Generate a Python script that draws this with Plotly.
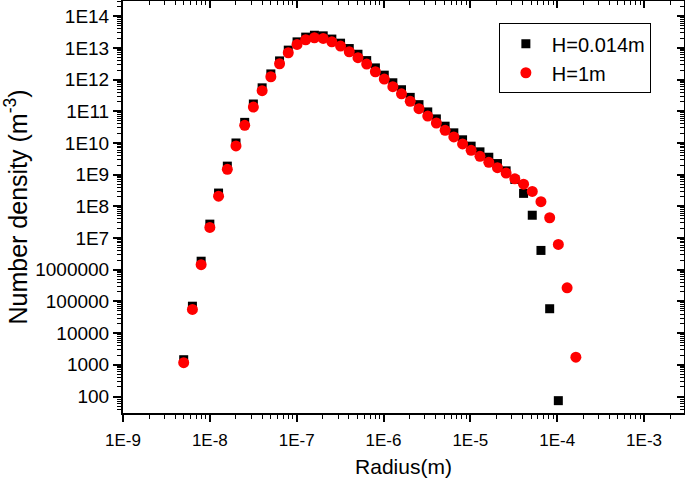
import plotly.graph_objects as go

# Radius bins (m)
radius = [5.00e-9, 6.30e-9, 7.94e-9, 1.00e-8, 1.26e-8, 1.59e-8, 2.00e-8, 2.52e-8,
          3.17e-8, 4.00e-8, 5.04e-8, 6.35e-8, 8.00e-8, 1.01e-7, 1.27e-7, 1.60e-7,
          2.02e-7, 2.54e-7, 3.20e-7, 4.03e-7, 5.08e-7, 6.40e-7, 8.06e-7, 1.02e-6,
          1.28e-6, 1.61e-6, 2.03e-6, 2.56e-6, 3.23e-6, 4.06e-6, 5.12e-6, 6.45e-6,
          8.13e-6, 1.02e-5, 1.29e-5, 1.63e-5, 2.05e-5, 2.58e-5, 3.25e-5, 4.10e-5,
          5.16e-5, 6.50e-5, 8.19e-5, 1.03e-4, 1.30e-4, 1.64e-4]

# H = 0.014 m (black squares), 44 points
density_h0014 = [1.45e3, 7.08e4, 1.86e6, 2.75e7, 2.63e8, 1.86e9, 1.00e10, 4.47e10,
                 1.70e11, 5.50e11, 1.51e12, 3.89e12, 8.51e12, 1.55e13, 2.19e13, 2.51e13,
                 2.40e13, 1.90e13, 1.41e13, 9.55e12, 6.31e12, 3.98e12, 2.34e12, 1.38e12,
                 7.94e11, 4.79e11, 2.75e11, 1.62e11, 9.55e10, 5.75e10, 3.39e10, 2.09e10,
                 1.26e10, 7.94e9, 5.25e9, 3.55e9, 2.24e9, 1.32e9, 7.08e8, 2.57e8,
                 5.25e7, 4.07e6, 5.89e4, 74]

# H = 1 m (red circles), 46 points
density_h1 = [1.17e3, 5.60e4, 1.45e6, 2.16e7, 2.09e8, 1.48e9, 8.05e9, 3.60e10,
              1.36e11, 4.47e11, 1.23e12, 3.16e12, 7.03e12, 1.29e13, 1.81e13, 2.09e13,
              1.99e13, 1.56e13, 1.14e13, 7.57e12, 4.90e12, 3.08e12, 1.77e12, 1.04e12,
              5.97e11, 3.55e11, 2.06e11, 1.21e11, 7.08e10, 4.27e10, 2.51e10, 1.55e10,
              9.31e9, 5.89e9, 3.80e9, 2.45e9, 1.66e9, 1.12e9, 7.41e8, 5.01e8,
              2.95e8, 1.41e8, 4.37e7, 6.31e6, 2.69e5, 1.74e3]

x_tickvals = [1e-9, 1e-8, 1e-7, 1e-6, 1e-5, 1e-4, 1e-3]
x_ticktext = ["1E-9", "1E-8", "1E-7", "1E-6", "1E-5", "1E-4", "1E-3"]
y_tickvals = [1e2, 1e3, 1e4, 1e5, 1e6, 1e7, 1e8, 1e9, 1e10, 1e11, 1e12, 1e13, 1e14]
y_ticktext = ["100", "1000", "10000", "100000", "1000000", "1E7", "1E8", "1E9",
              "1E10", "1E11", "1E12", "1E13", "1E14"]

FONT = "Liberation Sans, Arial, sans-serif"
xrange = [-9, -2.54]
yrange = [1.48, 14.48]

fig = go.Figure()
fig.add_trace(go.Scatter(x=radius[:len(density_h0014)], y=density_h0014, mode="markers",
                         name="H=0.014m",
                         marker=dict(symbol="square", size=9, color="black", line=dict(width=0))))
fig.add_trace(go.Scatter(x=radius, y=density_h1, mode="markers", name="H=1m",
                         marker=dict(symbol="circle", size=11, color="#ff0000", line=dict(width=0))))
# invisible copy bound to the mirror axes so that the inward top/right ticks get drawn
fig.add_trace(go.Scatter(x=radius, y=density_h1, mode="markers", xaxis="x2", yaxis="y2",
                         marker=dict(opacity=0), showlegend=False, hoverinfo="skip"))

common = dict(type="log", showgrid=False, zeroline=False, showline=True, automargin=False,
              linecolor="black", linewidth=2, tickcolor="black", tickwidth=1.5)
minor_out = dict(ticks="outside", ticklen=4, dtick="D1", tickcolor="black", tickwidth=1.2)
minor_in = dict(ticks="inside", ticklen=4, dtick="D1", tickcolor="black", tickwidth=1.2)

fig.update_layout(
    width=685, height=485,
    margin=dict(l=123, r=1, t=1, b=72),
    paper_bgcolor="white", plot_bgcolor="white",
    font=dict(family=FONT, color="black", size=17),
    xaxis=dict(**common, range=xrange, tickmode="array", tickvals=x_tickvals,
               ticktext=x_ticktext, ticks="outside", ticklen=7, minor=minor_out,
               tickfont=dict(size=17), ticklabelstandoff=4,
               title=dict(text="Radius(m)", font=dict(size=21), standoff=10)),
    yaxis=dict(**common, range=yrange, tickmode="array", tickvals=y_tickvals,
               ticktext=y_ticktext, ticks="outside", ticklen=8, minor=minor_out,
               tickfont=dict(size=19),
               title=dict(text="Number density (m<sup>-3</sup>)", font=dict(size=25), standoff=5)),
    xaxis2=dict(**common, range=xrange, overlaying="x", side="top", tickmode="array",
                tickvals=x_tickvals, ticks="inside", ticklen=7, showticklabels=False,
                minor=minor_in),
    yaxis2=dict(**common, range=yrange, overlaying="y", side="right", tickmode="array",
                tickvals=y_tickvals, ticks="inside", ticklen=7, showticklabels=False,
                minor=minor_in),
    legend=dict(x=0.67, y=0.946, xanchor="left", yanchor="top",
                bordercolor="black", borderwidth=1, bgcolor="white",
                font=dict(size=20, family=FONT), itemwidth=42, tracegroupgap=0),
    showlegend=True,
    hovermode=False,
)

fig.write_html("out.html", config={"displayModeBar": False},
               post_script="document.body.style.margin='0';document.body.style.padding='0';")
